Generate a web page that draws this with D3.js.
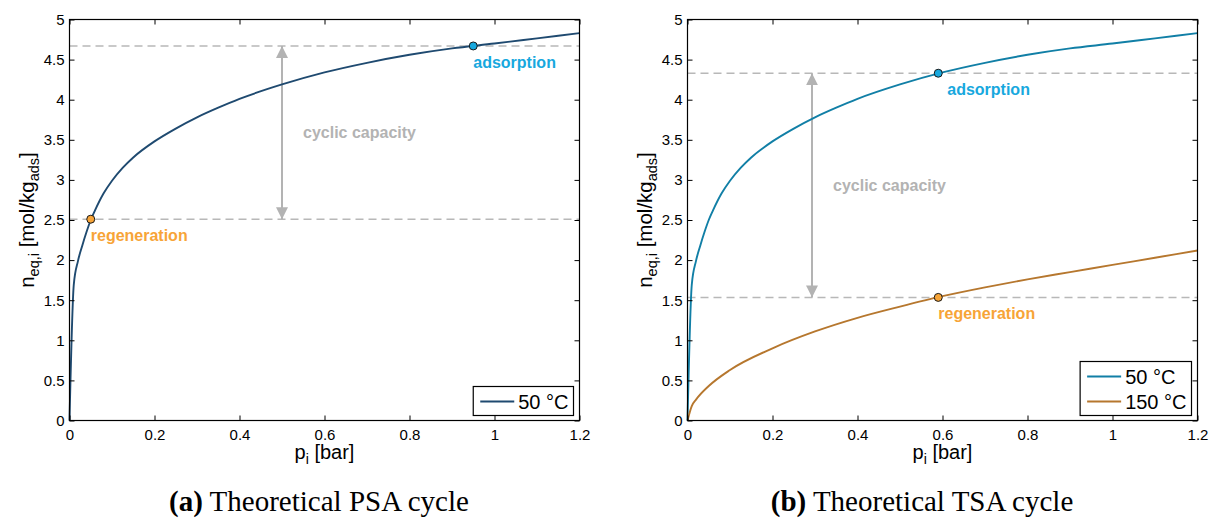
<!DOCTYPE html>
<html>
<head>
<meta charset="utf-8">
<script src="https://cdn.jsdelivr.net/npm/d3@7/dist/d3.min.js"></script>
<style>
  html, body { margin: 0; padding: 0; background: #fff; }
  svg { display: block; }
</style>
</head>
<body>
<svg id="chart" width="1210" height="525"></svg>
<script>
// ---------------- data ----------------
const xTicks = [0, 0.2, 0.4, 0.6, 0.8, 1, 1.2];
const yTicks = [0, 0.5, 1, 1.5, 2, 2.5, 3, 3.5, 4, 4.5, 5];
const xDomain = [0, 1.2];
const yDomain = [0, 5];

// 50 °C isotherm (same in both panels)
const p50 = [0, 0.01, 0.02, 0.03, 0.04, 0.05, 0.06, 0.08, 0.1, 0.125, 0.15, 0.2, 0.25, 0.3, 0.35, 0.4, 0.5, 0.6, 0.7, 0.8, 0.9, 1.0, 1.1, 1.2];
const n50 = [0, 1.69, 1.99, 2.18, 2.35, 2.50, 2.62, 2.83, 2.99, 3.15, 3.28, 3.48, 3.64, 3.78, 3.90, 4.01, 4.19, 4.34, 4.46, 4.56, 4.64, 4.70, 4.765, 4.83];

// 150 °C isotherm (TSA panel)
const p150 = [0, 0.01, 0.02, 0.05, 0.1, 0.2, 0.3, 0.4, 0.5, 0.6, 0.7, 0.8, 0.9, 1.0, 1.1, 1.2];
const n150 = [0, 0.18, 0.26, 0.43, 0.63, 0.90, 1.11, 1.28, 1.42, 1.55, 1.66, 1.76, 1.85, 1.94, 2.03, 2.12];

// operating points
const psaRegen = { p: 0.05, n: 2.51 };
const psaAds   = { p: 0.95, n: 4.67 };
const tsaRegen = { p: 0.59, n: 1.535 };
const tsaAds   = { p: 0.59, n: 4.33 };
const psaArrowP = 0.5;
const tsaArrowP = 0.293;

const legendPSA = ["50 °C"];
const legendTSA = ["50 °C", "150 °C"];
const captionPSA = ["(a)", " Theoretical PSA cycle"];
const captionTSA = ["(b)", " Theoretical TSA cycle"];

// ---------------- styles ----------------
const C = {
  psa50: "#1f4a70",
  tsa50: "#117fa6",
  tsa150: "#b6772e",
  orange: "#f7a437",
  blue: "#17a8de",
  gray: "#b3b3b3",
  dash: "#b8b8b8"
};
const SANS = "'Liberation Sans', Arial, Helvetica, sans-serif";
const SERIF = "'Liberation Serif', 'Times New Roman', serif";

const svg = d3.select("#chart");

// arrow markers
const defs = svg.append("defs");
function addMarker(id, orient) {
  defs.append("marker")
    .attr("id", id)
    .attr("viewBox", "0 -6 12 12")
    .attr("refX", 12).attr("refY", 0)
    .attr("markerUnits", "userSpaceOnUse")
    .attr("markerWidth", 12).attr("markerHeight", 12)
    .attr("orient", orient)
    .append("path").attr("d", "M0,-6L12,0L0,6Z").attr("fill", C.gray);
}
addMarker("arrEnd", "auto");
addMarker("arrStart", "auto-start-reverse");

function panel(opt) {
  const x = d3.scaleLinear().domain(xDomain).range([opt.x0, opt.x1]);
  const y = d3.scaleLinear().domain(yDomain).range([420.5, 19.5]);
  const g = svg.append("g");

  // dashed reference lines
  [opt.ads.n, opt.regen.n].forEach(v => {
    g.append("line")
      .attr("x1", x(0)).attr("x2", x(1.2))
      .attr("y1", y(v)).attr("y2", y(v))
      .attr("stroke", C.dash).attr("stroke-width", 1.5)
      .attr("stroke-dasharray", "8,5");
  });

  // double arrow
  g.append("line")
    .attr("x1", x(opt.arrowP)).attr("x2", x(opt.arrowP))
    .attr("y1", y(opt.regen.n)).attr("y2", y(opt.ads.n))
    .attr("stroke", C.gray).attr("stroke-width", 2)
    .attr("marker-start", "url(#arrStart)")
    .attr("marker-end", "url(#arrEnd)");

  g.append("text")
    .attr("x", x(opt.arrowP) + 21)
    .attr("y", (y(opt.regen.n) + y(opt.ads.n)) / 2)
    .attr("dy", "0.35em")
    .attr("font-family", SANS).attr("font-weight", "bold").attr("font-size", 16)
    .attr("fill", C.gray)
    .text("cyclic capacity");

  // curves
  const line = d3.line().x(d => x(d[0])).y(d => y(d[1])).curve(d3.curveMonotoneX);
  opt.series.forEach(s => {
    g.append("path")
      .attr("d", line(s.p.map((v, i) => [v, s.n[i]])))
      .attr("fill", "none").attr("stroke", s.color).attr("stroke-width", 1.9);
  });

  // axes (inward ticks, box)
  const font = sel => sel.selectAll("text").attr("font-family", SANS).attr("font-size", 15).attr("fill", "#000");
  const fmt = d3.format("~g");
  g.append("g").attr("transform", `translate(0,420.5)`)
    .call(d3.axisBottom(x).tickValues(xTicks).tickFormat(fmt).tickSizeInner(-5).tickSizeOuter(0).tickPadding(8.5))
    .call(font).call(a => a.select(".domain").remove());
  g.append("g").attr("transform", `translate(0,19.5)`)
    .call(d3.axisTop(x).tickValues(xTicks).tickFormat("").tickSizeInner(-5).tickSizeOuter(0))
    .call(a => a.select(".domain").remove());
  g.append("g").attr("transform", `translate(${opt.x0},0)`)
    .call(d3.axisLeft(y).tickValues(yTicks).tickFormat(fmt).tickSizeInner(-5).tickSizeOuter(0).tickPadding(5))
    .call(font).call(a => a.select(".domain").remove());
  g.append("g").attr("transform", `translate(${opt.x1},0)`)
    .call(d3.axisRight(y).tickValues(yTicks).tickFormat("").tickSizeInner(-5).tickSizeOuter(0))
    .call(a => a.select(".domain").remove());
  g.selectAll(".tick line").attr("stroke", "#000");
  g.append("rect")
    .attr("x", opt.x0).attr("y", 19.5)
    .attr("width", opt.x1 - opt.x0).attr("height", 401)
    .attr("fill", "none").attr("stroke", "#000").attr("stroke-width", 1.2);

  // points & labels
  [[opt.regen, C.orange, "regeneration", opt.regenDx], [opt.ads, C.blue, "adsorption", opt.adsDx]].forEach(([pt, col, lbl, dx]) => {
    g.append("circle")
      .attr("cx", x(pt.p)).attr("cy", y(pt.n)).attr("r", 4)
      .attr("fill", col).attr("stroke", "#1a1a1a").attr("stroke-width", 1);
    g.append("text")
      .attr("x", x(pt.p) + dx).attr("y", y(pt.n) + 22)
      .attr("font-family", SANS).attr("font-weight", "bold").attr("font-size", 16)
      .attr("fill", col).text(lbl);
  });

  // axis labels
  const xl = g.append("text")
    .attr("x", (opt.x0 + opt.x1) / 2).attr("y", 459)
    .attr("text-anchor", "middle")
    .attr("font-family", SANS).attr("font-size", 20);
  xl.append("tspan").text("p");
  xl.append("tspan").attr("font-size", 14).attr("dy", 5).text("i");
  xl.append("tspan").attr("dy", -5).text(" [bar]");

  const yl = g.append("text")
    .attr("transform", `translate(${opt.x0 - 36},${(19.5 + 420.5) / 2}) rotate(-90)`)
    .attr("text-anchor", "middle")
    .attr("font-family", SANS).attr("font-size", 20.5);
  yl.append("tspan").text("n");
  yl.append("tspan").attr("font-size", 14.5).attr("dy", 5).text("eq,i");
  yl.append("tspan").attr("dy", -5).text(" [mol/kg");
  yl.append("tspan").attr("font-size", 14.5).attr("dy", 5).text("ads");
  yl.append("tspan").attr("dy", -5).text("]");

  // legend
  const rows = opt.legend.length;
  const lh = 15 + 25 * (rows - 1) + 14;
  const lg = g.append("g");
  const box = lg.append("rect").attr("fill", "#fff").attr("stroke", "#000").attr("stroke-width", 1.2);
  let maxW = 0;
  const items = opt.legend.map((name, i) => {
    const l = lg.append("line").attr("stroke", opt.series[i].color).attr("stroke-width", 2);
    const t = lg.append("text").attr("font-family", SANS).attr("font-size", 20).attr("dy", "0.35em").text(name);
    maxW = Math.max(maxW, t.node().getComputedTextLength());
    return { l, t };
  });
  const bw = 45 + maxW + 5;
  const bx = opt.x1 - 6 - bw, by = 415.5 - lh;
  box.attr("x", bx).attr("y", by).attr("width", bw).attr("height", lh);
  items.forEach((it, i) => {
    const cy = by + 15 + 25 * i;
    it.l.attr("x1", bx + 7).attr("x2", bx + 41).attr("y1", cy).attr("y2", cy);
    it.t.attr("x", bx + 45).attr("y", cy);
  });

  // caption
  const cap = svg.append("text")
    .attr("x", opt.capX).attr("y", 511)
    .attr("text-anchor", "middle")
    .attr("font-family", SERIF).attr("font-size", 29);
  cap.append("tspan").attr("font-weight", "bold").text(opt.caption[0]);
  cap.append("tspan").text(opt.caption[1]);
}

panel({
  x0: 69.5, x1: 579.5,
  series: [{ p: p50, n: n50, color: C.psa50 }],
  regen: psaRegen, ads: psaAds, arrowP: psaArrowP,
  regenDx: 0, adsDx: 0,
  legend: legendPSA, caption: captionPSA, capX: 319
});
panel({
  x0: 687.5, x1: 1197.5,
  series: [{ p: p50, n: n50, color: C.tsa50 }, { p: p150, n: n150, color: C.tsa150 }],
  regen: tsaRegen, ads: tsaAds, arrowP: tsaArrowP,
  regenDx: 0, adsDx: 9,
  legend: legendTSA, caption: captionTSA, capX: 922
});
</script>
</body>
</html>
